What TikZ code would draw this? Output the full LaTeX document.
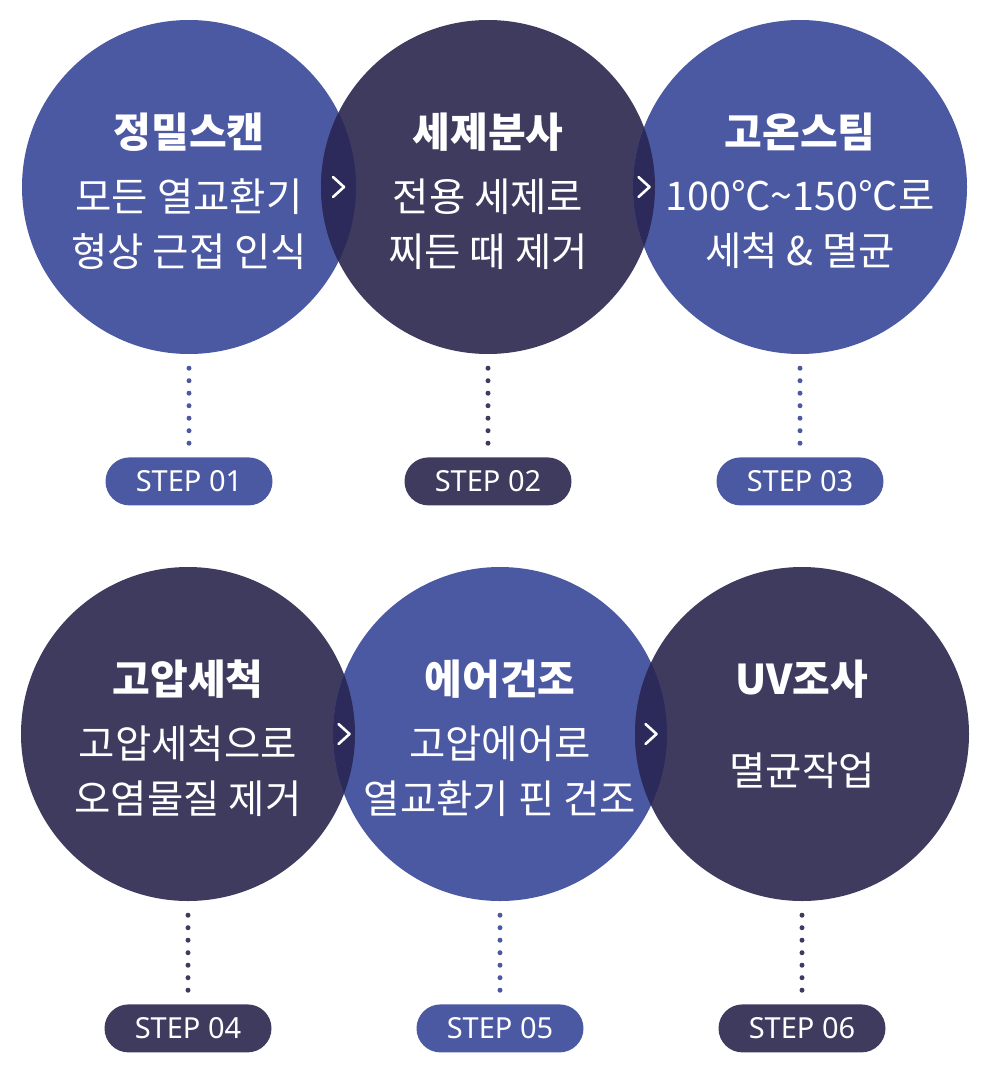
\documentclass[tikz,border=0pt]{standalone}
\usepackage{fontspec}
\setmainfont{Noto Sans CJK KR}
\newfontfamily\stepfont{Noto Sans}
\usetikzlibrary{positioning,calc}

\definecolor{stepblue}{HTML}{4B59A3}
\definecolor{stepdark}{HTML}{3F3B5F}
\definecolor{steplens}{HTML}{2C2A5A}

\begin{document}
\begin{tikzpicture}[x=1pt, y=-1pt,
    disc/.style={circle, minimum size=334pt, inner sep=0pt},
    heading/.style={text=white, font=\bfseries\fontsize{41}{44}\selectfont},
    body/.style={text=white, align=center, font=\fontsize{39.5}{55}\selectfont},
    pill/.style={rounded corners=24pt, minimum width=167pt, minimum height=48pt,
        inner sep=0pt, text=white, font=\stepfont\fontsize{29}{30}\selectfont},
    dots/.style={line width=5pt, line cap=round, dash pattern=on 0pt off 12.5pt,
        shorten <=14pt, shorten >=13.5pt},
    chevron/.style={white, line width=2.6pt, line cap=round, line join=round}]
\useasboundingbox (0,0) rectangle (1002,1074);

% Step circles
\foreach \n/\x/\y/\col in {1/189/187/stepblue, 2/488/187/stepdark, 3/800/187/stepblue,
                            4/188/734/stepdark, 5/500/734/stepblue, 6/802/734/stepdark} {
    \node[disc, fill=\col] (c\n) at (\x,\y) {};
}

% Overlaps and arrows
\foreach \a/\b in {1/2, 2/3, 4/5, 5/6} {
    \begin{scope}
        \clip (c\a) circle (167pt);
        \fill[steplens] (c\b) circle (167pt);
    \end{scope}
    \draw[chevron] ($(c\a)!0.5!(c\b)$) ++(-5.5,-10) -- ++(11,10) -- ++(-11,10);
}

% Titles and descriptions
\foreach \n/\title/\lines/\off in {1/정밀스캔/{모든 열교환기\\형상 근접 인식}/37,
        2/세제분사/{전용 세제로\\찌든 때 제거}/37,
        3/고온스팀/{100℃\textasciitilde150℃로\\세척 \& 멸균}/37,
        4/고압세척/{고압세척으로\\오염물질 제거}/37,
        5/에어건조/{고압에어로\\열교환기 핀 건조}/37,
        6/UV조사/{멸균작업}/37} {
    \node[heading] (h\n) at (c\n) [yshift=55pt] {\title};
    \node[body] (b\n) at (c\n) [yshift=-\off pt] {\lines};
}

% Step labels
\foreach \n/\col in {1/stepblue, 2/stepdark, 3/stepblue, 4/stepdark, 5/stepblue, 6/stepdark} {
    \node[pill, fill=\col, below=103pt of c\n] (s\n) {STEP 0\n};
    \draw[dots, \col] (c\n) -- (s\n);
}
\end{tikzpicture}
\end{document}
